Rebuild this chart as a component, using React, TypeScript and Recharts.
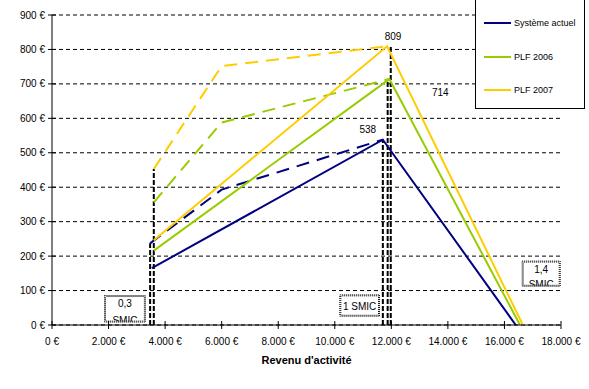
import React from 'react';
import {
  LineChart,
  Line,
  XAxis,
  YAxis,
  CartesianGrid,
  Legend,
  ReferenceArea,
  ReferenceDot,
  Label,
} from 'recharts';

const FONT = '"Liberation Sans", Arial, Helvetica, sans-serif';

// ---- Data ----
const seriesNames = ['Système actuel', 'PLF 2006', 'PLF 2007'];
const seriesColors = ['#000080', '#99CC00', '#FFCC00'];

const xTicks = [0, 2000, 4000, 6000, 8000, 10000, 12000, 14000, 16000, 18000];
const xTickLabels = ['0 €', '2.000 €', '4.000 €', '6.000 €', '8.000 €', '10.000 €', '12.000 €', '14.000 €', '16.000 €', '18.000 €'];
const yTicks = [0, 100, 200, 300, 400, 500, 600, 700, 800, 900];
const yTickLabels = ['0 €', '100 €', '200 €', '300 €', '400 €', '500 €', '600 €', '700 €', '800 €', '900 €'];

// solid lines
const actuelSolid = [
  { x: 3530, y: 165 },
  { x: 11700, y: 538 },
  { x: 16400, y: 0 },
];
const plf2006Solid = [
  { x: 3600, y: 216 },
  { x: 11930, y: 714 },
  { x: 16550, y: 0 },
];
const plf2007Solid = [
  { x: 3600, y: 246 },
  { x: 11850, y: 809 },
  { x: 16650, y: 0 },
];

// dashed lines
const actuelDashed = [
  { x: 3470, y: 237 },
  { x: 6000, y: 393 },
  { x: 11700, y: 538 },
];
const plf2006Dashed = [
  { x: 3600, y: 356 },
  { x: 6000, y: 588 },
  { x: 11930, y: 714 },
];
const plf2007Dashed = [
  { x: 3600, y: 453 },
  { x: 6000, y: 752 },
  { x: 11850, y: 809 },
];

// vertical guide lines (x, top value)
const guideX = [3470, 3600, 11700, 11870, 11980];
const guideTop = [237, 453, 538, 714, 809];
const guides = guideX.map((gx, i) => [
  { x: gx, y: 0 },
  { x: gx, y: guideTop[i] },
]);

// peak labels
const peakX = [11700, 11930, 11850];
const peakY = [538, 714, 809];
const peakText = ['538', '714', '809'];

// SMIC notes
const noteLines = [['0,3', 'SMIC'], ['1 SMIC'], ['1,4', 'SMIC']];
const noteX1 = [1840, 10160, 16610];
const noteX2 = [3320, 11600, 17990];
const noteY1 = [7, 24, 111];
const noteY2 = [87, 89, 187];

// ---- style (not data) ----
const peakDx = [-15, 51, 6];
const peakDy = [-10, 13, -10];

const XTick = (props: any) => {
  const { x, y, payload } = props;
  const i = xTicks.indexOf(payload.value);
  return (
    <g>
      <line x1={x} x2={x} y1={y - 17} y2={y - 9} stroke="#000" strokeWidth={1} />
      <text x={x} y={y + 7} textAnchor="middle" fontSize={10} fontFamily={FONT} fill="#000">
        {xTickLabels[i]}
      </text>
    </g>
  );
};

const YTick = (props: any) => {
  const { x, y, payload } = props;
  const i = yTicks.indexOf(payload.value);
  return (
    <g>
      <line x1={x + 3} x2={x + 11} y1={y} y2={y} stroke="#000" strokeWidth={1} />
      <text x={x} y={y + 3.5} textAnchor="end" fontSize={10} fontFamily={FONT} fill="#000">
        {yTickLabels[i]}
      </text>
    </g>
  );
};

const renderLegend = () => (
  <div
    style={{
      width: 110,
      height: 110,
      boxSizing: 'border-box',
      border: '1px solid #000',
      background: '#fff',
      position: 'relative',
      fontFamily: FONT,
      fontSize: 9,
      color: '#000',
    }}
  >
    {seriesNames.map((name, i) => {
      const cy = [23, 57, 90][i];
      return (
        <div key={name}>
          <div
            style={{
              position: 'absolute',
              left: 8,
              top: cy - 1,
              width: 27,
              height: 2,
              background: seriesColors[i],
            }}
          />
          <div
            style={{
              position: 'absolute',
              left: 38,
              top: cy - 6,
              height: 12,
              lineHeight: '12px',
              whiteSpace: 'nowrap',
            }}
          >
            {name}
          </div>
        </div>
      );
    })}
  </div>
);

const makeNoteShape = (idx: number) => (props: any) => {
  const { x, y, width, height } = props;
  const lines = noteLines[idx];
  const cx = x + width / 2;
  const clipId = `noteclip${idx}`;
  return (
    <g>
      <defs>
        <clipPath id={clipId}>
          <rect x={x + 1} y={y + 1} width={width - 2} height={height - 2} />
        </clipPath>
      </defs>
      <rect x={x + 0.5} y={y + 0.5} width={width - 1} height={height - 1} fill="#fff" stroke="#000" strokeWidth={1} strokeDasharray="1 1" />
      <rect x={x + 1.5} y={y + 1.5} width={width - 3} height={height - 3} fill="none" stroke="#000" strokeWidth={1} strokeDasharray="1 1" strokeDashoffset={1} />
      <g clipPath={`url(#${clipId})`}>
        {lines.length === 1 ? (
          <text x={cx} y={y + height / 2 + 4} textAnchor="middle" fontSize={10} fontFamily={FONT} fill="#000">
            {lines[0]}
          </text>
        ) : (
          <>
            <text x={cx} y={y + 12} textAnchor="middle" fontSize={10} fontFamily={FONT} fill="#000">
              {lines[0]}
            </text>
            <text x={cx} y={y + height + 1} textAnchor="middle" fontSize={10} fontFamily={FONT} fill="#000">
              {lines[1]}
            </text>
          </>
        )}
      </g>
    </g>
  );
};

const makePeakShape = (idx: number) => (props: any) => {
  const { cx, cy } = props;
  return (
    <text x={cx + peakDx[idx]} y={cy + peakDy[idx] + 3.5} textAnchor="middle" fontSize={10} fontFamily={FONT} fill="#000">
      {peakText[idx]}
    </text>
  );
};

export default function App() {
  return (
    <div style={{ position: 'absolute', left: 0, top: 0, width: 589, height: 389, background: '#fff' }}>
      <LineChart width={589} height={389} margin={{ top: 15, right: 28, left: 0, bottom: 0 }}>
        <CartesianGrid horizontal vertical={false} stroke="#000" strokeDasharray="4 3" />
        <XAxis
          dataKey="x"
          type="number"
          domain={[0, 18000]}
          ticks={xTicks}
          interval={0}
          height={64}
          tickSize={4}
          tickMargin={9}
          tickLine={false}
          axisLine={{ stroke: '#000' }}
          tick={<XTick />}
          allowDataOverflow
        >
          <Label
            value="Revenu d'activité"
            position="insideBottom"
            offset={25}
            style={{ fontWeight: 'bold', fontSize: 11, fontFamily: FONT, fill: '#000' }}
          />
        </XAxis>
        <YAxis
          type="number"
          domain={[0, 900]}
          ticks={yTicks}
          interval={0}
          width={52}
          tickSize={4}
          tickMargin={3}
          tickLine={false}
          axisLine={{ stroke: '#000' }}
          tick={<YTick />}
          allowDataOverflow
        />
        <Legend
          content={renderLegend}
          layout="horizontal"
          verticalAlign="middle"
          align="center"
          wrapperStyle={{ left: 475, top: -1, width: 110, height: 110 }}
        />
        {guides.map((g, i) => (
          <Line
            key={`guide${i}`}
            data={g}
            dataKey="y"
            type="linear"
            stroke="#000"
            strokeWidth={2}
            strokeDasharray="5 2"
            dot={false}
            activeDot={false}
            isAnimationActive={false}
            legendType="none"
          />
        ))}
        <Line data={actuelDashed} dataKey="y" type="linear" stroke={seriesColors[0]} strokeWidth={2} strokeDasharray="13 8" dot={false} activeDot={false} isAnimationActive={false} />
        <Line data={plf2006Dashed} dataKey="y" type="linear" stroke={seriesColors[1]} strokeWidth={2} strokeDasharray="13 8" dot={false} activeDot={false} isAnimationActive={false} />
        <Line data={plf2007Dashed} dataKey="y" type="linear" stroke={seriesColors[2]} strokeWidth={2} strokeDasharray="13 8" dot={false} activeDot={false} isAnimationActive={false} />
        <Line data={actuelSolid} dataKey="y" name={seriesNames[0]} type="linear" stroke={seriesColors[0]} strokeWidth={2} dot={false} activeDot={false} isAnimationActive={false} />
        <Line data={plf2006Solid} dataKey="y" name={seriesNames[1]} type="linear" stroke={seriesColors[1]} strokeWidth={2} dot={false} activeDot={false} isAnimationActive={false} />
        <Line data={plf2007Solid} dataKey="y" name={seriesNames[2]} type="linear" stroke={seriesColors[2]} strokeWidth={2} dot={false} activeDot={false} isAnimationActive={false} />
        {noteLines.map((_, i) => (
          <ReferenceArea
            key={`note${i}`}
            x1={noteX1[i]}
            x2={noteX2[i]}
            y1={noteY1[i]}
            y2={noteY2[i]}
            shape={makeNoteShape(i)}
            ifOverflow="visible"
          />
        ))}
        {peakText.map((_, i) => (
          <ReferenceDot key={`peak${i}`} x={peakX[i]} y={peakY[i]} r={0} shape={makePeakShape(i)} ifOverflow="visible" />
        ))}
      </LineChart>
    </div>
  );
}
